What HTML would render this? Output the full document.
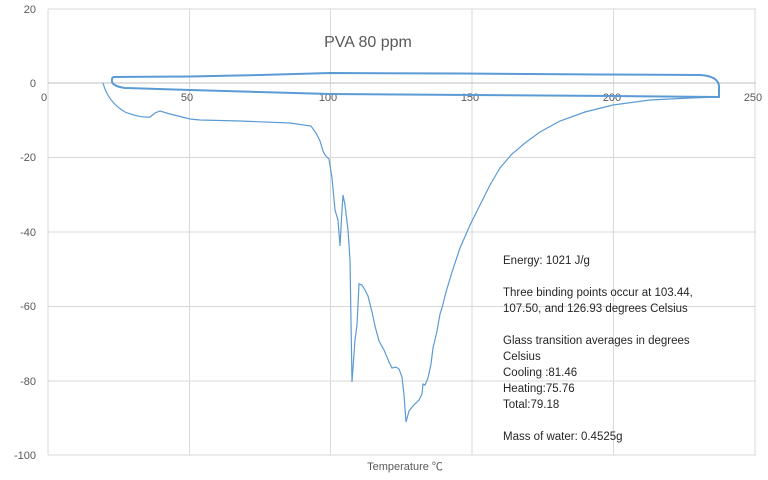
<!DOCTYPE html>
<html><head><meta charset="utf-8"><style>
html,body{margin:0;padding:0;background:#fff;}
svg{display:block;font-family:"Liberation Sans","Noto Sans CJK SC",sans-serif;}
</style></head><body>
<svg width="768" height="480" viewBox="0 0 768 480" xmlns="http://www.w3.org/2000/svg">
<rect width="768" height="480" fill="#fff"/>
<g stroke="#d9d9d9" stroke-width="1" fill="none">
<line x1="48" y1="9" x2="756" y2="9"/>
<line x1="48" y1="157.5" x2="756" y2="157.5"/>
<line x1="48" y1="232" x2="756" y2="232"/>
<line x1="48" y1="306.5" x2="756" y2="306.5"/>
<line x1="48" y1="381" x2="756" y2="381"/>
<line x1="48" y1="455" x2="756" y2="455"/>
<line x1="48" y1="9" x2="48" y2="455"/>
<line x1="189.5" y1="9" x2="189.5" y2="455"/>
<line x1="330.5" y1="9" x2="330.5" y2="455"/>
<line x1="472" y1="9" x2="472" y2="455"/>
<line x1="613.5" y1="9" x2="613.5" y2="455"/>
<line x1="755" y1="9" x2="755" y2="455"/>
</g>
<line x1="48" y1="83" x2="756" y2="83" stroke="#bfbfbf" stroke-width="1"/>
<g font-size="11" fill="#595959">
<text x="36" y="13" text-anchor="end">20</text>
<text x="36" y="87" text-anchor="end">0</text>
<text x="36" y="161" text-anchor="end">-20</text>
<text x="36" y="236" text-anchor="end">-40</text>
<text x="36" y="310" text-anchor="end">-60</text>
<text x="36" y="385" text-anchor="end">-80</text>
<text x="36" y="459" text-anchor="end">-100</text>
<text x="44" y="101" text-anchor="middle">0</text>
<text x="187" y="101" text-anchor="middle">50</text>
<text x="328" y="101" text-anchor="middle">100</text>
<text x="470" y="101" text-anchor="middle">150</text>
<text x="612" y="101" text-anchor="middle">200</text>
<text x="753" y="101" text-anchor="middle">250</text>
<text x="405" y="470" text-anchor="middle">Temperature ℃</text>
</g>
<text x="368" y="47" font-size="16" fill="#595959" text-anchor="middle">PVA 80 ppm</text>
<path d="M114,77 L190,76.5 L260,75 L330,73 L460,73.5 L600,74.5 L700,75 Q718,76 719,86 L719,97 L613,96 L472,95 L330,94 L190,90 L125,88 Q111,86 112,80 Q112,77 114,77 Z" fill="none" stroke="#5b9bd5" stroke-width="2"/>
<path d="M103,83 Q108,102 125,112 Q140,118 150,117 L155,113 L160,111 L170,114 L190,119 L200,120 L240,121 L290,123 L311,126 L316,133 L320,141 L323,151 L325,155 L327,157 L329,159 L332,178 L335,210 L338,220 L340,246 L342,210 L343,195 L345,205 L348,230 L350,260 L352,382 L355,340 L357,325 L359,284 L362,285 L365,290 L368,296 L372,312 L375,326 L379,341 L384,350 L389,362 L392,368 L396,367 L399,369 L402,377 L404,395 L406,422 L409,411 L413,406 L419,400 L422,394 L423,384 L425,385 L428,378 L431,364 L433,348 L437,331 L440,314 L442,308 L446,292 L452,272 L460,248 L470,225 L480,205 L490,185 L500,168 L512,154 L525,143 L540,132 L560,121 L585,112 L613,105 L650,100 L690,98 L719,97" fill="none" stroke="#5b9bd5" stroke-width="1.2"/>
<g font-size="11.5" fill="#262626">
<text x="503" y="264">Energy: 1021 J/g</text>
<text x="503" y="296">Three binding points occur at 103.44,</text>
<text x="503" y="312">107.50, and 126.93 degrees Celsius</text>
<text x="503" y="344">Glass transition averages in degrees</text>
<text x="503" y="360">Celsius</text>
<text x="503" y="376">Cooling :81.46</text>
<text x="503" y="392">Heating:75.76</text>
<text x="503" y="408">Total:79.18</text>
<text x="503" y="440">Mass of water: 0.4525g</text>
</g>
</svg>
</body></html>
